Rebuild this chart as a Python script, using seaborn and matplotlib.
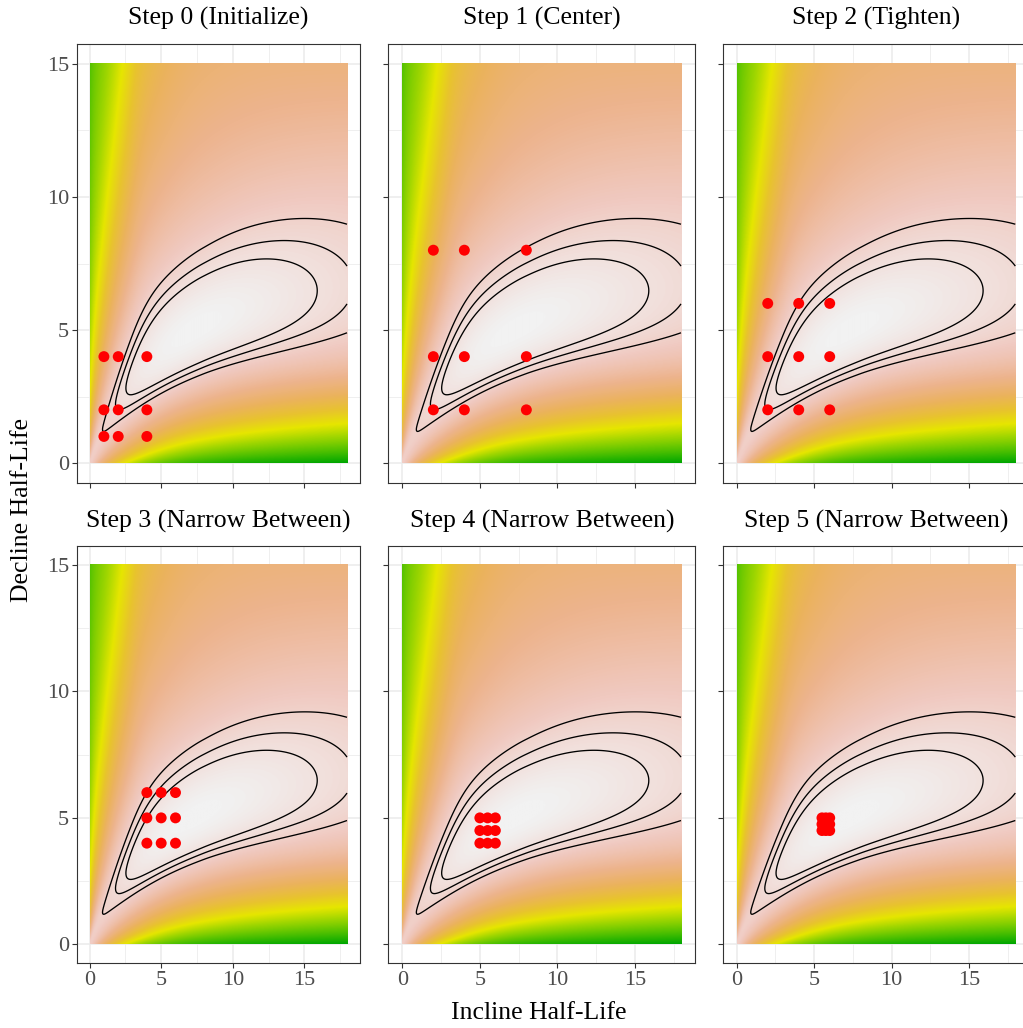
import numpy as np
import pandas as pd
import matplotlib
matplotlib.use("Agg")
import matplotlib.pyplot as plt
import seaborn as sns
from matplotlib.colors import LinearSegmentedColormap
from matplotlib.ticker import MultipleLocator

# ---------------- data ----------------
step_titles = ["Step 0 (Initialize)", "Step 1 (Center)", "Step 2 (Tighten)",
               "Step 3 (Narrow Between)", "Step 4 (Narrow Between)", "Step 5 (Narrow Between)"]
step0_incline = [1, 2, 4];      step0_decline = [1, 2, 4]
step1_incline = [2, 4, 8];      step1_decline = [2, 4, 8]
step2_incline = [2, 4, 6];      step2_decline = [2, 4, 6]
step3_incline = [4, 5, 6];      step3_decline = [4, 5, 6]
step4_incline = [5, 5.5, 6];    step4_decline = [4, 4.5, 5]
step5_incline = [5.5, 5.75, 6]; step5_decline = [4.5, 4.75, 5]
step_incline = [step0_incline, step1_incline, step2_incline, step3_incline, step4_incline, step5_incline]
step_decline = [step0_decline, step1_decline, step2_decline, step3_decline, step4_decline, step5_decline]

x_ticks = [0, 5, 10, 15]
y_ticks = [0, 5, 10, 15]
contour_levels = [0.9045, 0.930, 0.9505]
terrain_colors = ["#00A600", "#2DB600", "#63C600", "#A0D600", "#E6E600",
                  "#E8C32E", "#EBB25E", "#EDB48E", "#F0C9C0", "#F2F2F2"]

# fit-quality surface over (incline, decline) half-lives
incline_grid = np.linspace(0.0225, 17.9775, 400)
decline_grid = np.linspace(0.01875, 14.98125, 400)
X, Y = np.meshgrid(incline_grid, decline_grid)
eps = 0.5
ridge = 8.6 * X / (X + 5.2)
d = np.log((Y + eps) / (ridge + eps))
s = 1 + 0.45 * np.clip((X - 8) / 10, 0, None) ** 1.5
s_eff = 1 + (s - 1) * np.exp(-(d / 0.6) ** 2)
de = d / s_eff
wp = 0.52 + 0.45 * np.exp(-((X - 2.3) / 2.9) ** 2)
qp = 0.43 + 0.31 * (1 - np.exp(-(np.clip(X - 3, 0, None) / 3) ** 2))
bp = qp * wp ** 2
wn = 0.70 + 1.15 * np.exp(-X / 2.2) + 0.05 * (X / 18) ** 2
bn = 0.385
T = np.where(de >= 0, bp * np.log1p((de / wp) ** 2), bn * np.log1p((de / wn) ** 2))
u = np.log(X)
g = np.where(u >= 2.0, 0.0843 * (u - 2.0) ** 2,
             0.104 * (1 - np.exp(-((2.0 - u) / 1.33) ** 2)))
fit = 1 - (T + g)

# ---------------- style ----------------
sns.set_theme(style="white")
plt.rcParams['font.family'] = ['Liberation Serif', 'DejaVu Serif']

cmap = LinearSegmentedColormap.from_list("terrain_r", terrain_colors)

W, H = 1023, 1028
fig = plt.figure(figsize=(W / 100, H / 100), dpi=100)

col_px = [(76.7, 360.2), (388.4, 695.3), (722.8, 1029.6)]
row_px = [(44.0, 483.0), (546.0, 963.3)]

for i in range(6):
    r, c = divmod(i, 3)
    x0, x1 = col_px[c]
    y0, y1 = row_px[r]
    ax = fig.add_axes([x0 / W, 1 - y1 / H, (x1 - x0) / W, (y1 - y0) / H])
    ax.set_axisbelow(True)
    ax.imshow(fit, origin="lower", extent=[0, 18, 0, 15], cmap=cmap,
              vmin=fit.min(), vmax=fit.max(), aspect="auto",
              interpolation="bilinear", zorder=1)
    ax.contour(X, Y, fit, levels=contour_levels, colors="black",
               linewidths=0.95, zorder=2)
    pts = pd.DataFrame([(xi, yi) for xi in step_incline[i] for yi in step_decline[i]],
                       columns=["incline", "decline"])
    sns.scatterplot(data=pts, x="incline", y="decline", ax=ax, color="#FF0000",
                    s=62, linewidth=0, edgecolor="none", legend=False, zorder=3)
    ax.set_xlim(-0.9, 18.9)
    ax.set_ylim(-0.75, 15.75)
    ax.set_xticks(x_ticks)
    ax.set_yticks(y_ticks)
    ax.xaxis.set_minor_locator(MultipleLocator(2.5))
    ax.yaxis.set_minor_locator(MultipleLocator(2.5))
    ax.grid(which="major", color="#EBEBEB", linewidth=1.1)
    ax.grid(which="minor", color="#EBEBEB", linewidth=0.55)
    ax.tick_params(which="major", length=3.6, width=0.8, color="#333333",
                   labelsize=16, labelcolor="#4D4D4D", pad=2,
                   bottom=True, left=True)
    ax.tick_params(which="minor", length=0)
    if r == 0:
        ax.set_xticklabels([])
    if c != 0:
        ax.set_yticklabels([])
    ax.set_xlabel("")
    ax.set_ylabel("")
    for sp in ax.spines.values():
        sp.set_color("#333333")
        sp.set_linewidth(0.8)
        sp.set_visible(True)
    ty = 18 if r == 0 else 521
    fig.text((x0 + x1) / 2 / W, 1 - ty / H, step_titles[i], ha="center", va="center",
             fontsize=18.5, color="black")

fig.text(539 / W, 1 - 1013 / H, "Incline Half-Life", ha="center", va="center",
         fontsize=18.5, color="black")
fig.text(22 / W, 1 - 510 / H, "Decline Half-Life", ha="center", va="center",
         rotation=90, fontsize=18.5, color="black")

fig.savefig("out.png", dpi=100)
